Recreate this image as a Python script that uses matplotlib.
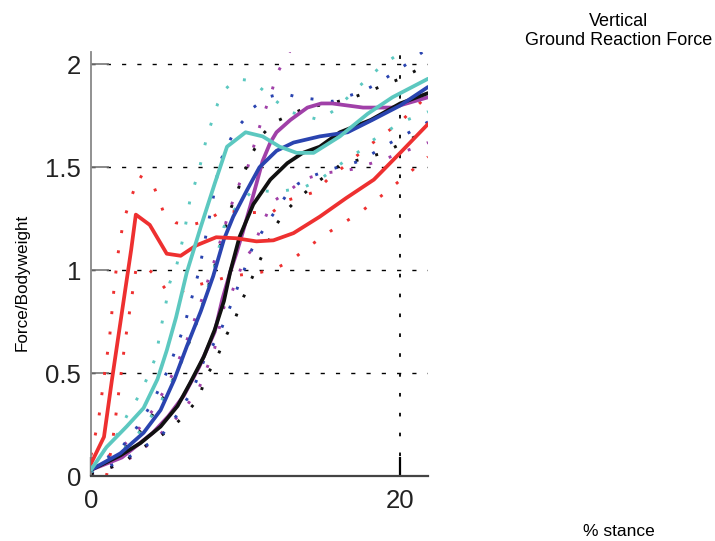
import matplotlib.pyplot as plt

plt.rcParams['font.family'] = ['Liberation Sans', 'DejaVu Sans']

# red
red_x = [0, 0.84, 1.36, 1.95, 2.6, 2.9, 3.8, 4.9, 5.8, 6.8, 8.1, 9.4, 10.7, 11.8, 13.1, 14.8, 16.5, 18.3, 20, 21.8]
red_y = [0.06, 0.19, 0.47, 0.77, 1.10, 1.27, 1.22, 1.08, 1.07, 1.12, 1.16, 1.155, 1.14, 1.145, 1.18, 1.26, 1.35, 1.44, 1.57, 1.71]
red_hi_x = [0, 0.5, 0.9, 1.2, 1.5, 1.75, 2.1, 2.5, 3.1, 4, 4.7, 5.5, 6.5, 7.5, 8.5, 10, 11.7, 12.7, 14.5, 15.3, 16.3, 17.9, 20, 21.8]
red_hi_y = [0.1, 0.28, 0.51, 0.67, 0.92, 1.08, 1.24, 1.33, 1.46, 1.42, 1.28, 1.23, 1.22, 1.24, 1.29, 1.28, 1.28, 1.34, 1.38, 1.44, 1.5, 1.6, 1.72, 1.85]
red_lo_x = [1, 1.4, 1.8, 2.2, 2.6, 2.9, 3.5, 4.2, 4.9, 6, 7, 8, 9, 10, 11, 12, 13, 14, 15.5, 17.4, 19.1, 21.8]
red_lo_y = [0.0, 0.17, 0.41, 0.65, 0.85, 1.0, 1.02, 0.97, 0.9, 0.9, 0.93, 0.95, 0.97, 0.98, 0.99, 1.01, 1.05, 1.11, 1.19, 1.28, 1.38, 1.55]

# cyan
cyan_x = [0, 1, 2.3, 3.4, 4.3, 4.9, 5.5, 6.2, 7.1, 8, 8.8, 10, 11.1, 12.2, 13.3, 14.4, 16.1, 17.9, 19.5, 21.8]
cyan_y = [0.03, 0.14, 0.24, 0.33, 0.47, 0.61, 0.77, 0.99, 1.21, 1.42, 1.60, 1.67, 1.65, 1.60, 1.57, 1.57, 1.65, 1.76, 1.84, 1.93]
cyan_hi_x = [0, 1, 1.9, 2.3, 3.1, 3.6, 4.2, 4.5, 4.8, 5.1, 5.5, 6, 6.4, 7, 7.5, 8.2, 8.7, 9.4, 10.4, 12, 12.8, 14.8, 15.8, 17.3, 18.9, 20.5, 21.8]
cyan_hi_y = [0.04, 0.14, 0.22, 0.29, 0.39, 0.47, 0.58, 0.71, 0.82, 0.94, 1.01, 1.17, 1.34, 1.49, 1.65, 1.81, 1.88, 1.93, 1.92, 1.82, 1.77, 1.73, 1.78, 1.89, 2.0, 2.08, 2.12]
cyan_lo_x = [0, 2, 3, 4, 5, 6, 7, 8, 8.6, 9.1, 10.5, 12, 13.7, 14.8, 16.4, 17.4, 18.2, 20.1, 21.8]
cyan_lo_y = [0.02, 0.12, 0.2, 0.3, 0.42, 0.58, 0.78, 1.02, 1.21, 1.28, 1.39, 1.38, 1.40, 1.44, 1.53, 1.58, 1.63, 1.72, 1.77]

# blue
blue_x = [0, 1.9, 3.4, 4.5, 5.4, 6.2, 7.1, 7.9, 8.6, 9.2, 10.1, 10.9, 12, 13.1, 14.8, 16.6, 18.2, 20, 21.8]
blue_y = [0.03, 0.11, 0.21, 0.32, 0.47, 0.63, 0.80, 0.97, 1.15, 1.26, 1.39, 1.50, 1.58, 1.62, 1.65, 1.67, 1.73, 1.80, 1.89]
blue_hi_x = [0, 2, 3, 4, 5, 6, 7, 7.9, 8.3, 9.3, 9.9, 10.5, 11.4, 12.4, 13.4, 14.5, 15.6, 17.6, 18.6, 20.4, 21.8]
blue_hi_y = [0.03, 0.14, 0.24, 0.36, 0.52, 0.72, 1.0, 1.35, 1.52, 1.68, 1.73, 1.79, 1.84, 1.86, 1.84, 1.83, 1.82, 1.87, 1.91, 2.0, 2.08]
blue_lo_x = [0, 2, 3, 4, 4.7, 5.5, 6.6, 7.3, 8.3, 9.2, 10.4, 11.4, 12.6, 13.4, 14.4, 15.5, 17.4, 19.4, 21.8]
blue_lo_y = [0.02, 0.07, 0.12, 0.17, 0.21, 0.29, 0.42, 0.56, 0.69, 0.86, 1.1, 1.23, 1.36, 1.42, 1.46, 1.49, 1.53, 1.62, 1.72]

# purple
purple_x = [0, 2, 3, 4, 5, 6, 7, 8, 8.5, 9, 9.4, 9.8, 10.3, 10.7, 11.1, 11.6, 12, 12.9, 14, 14.9, 15.6, 17.6, 19.5, 21.8]
purple_y = [0.03, 0.09, 0.15, 0.21, 0.29, 0.39, 0.53, 0.70, 0.86, 0.99, 1.08, 1.18, 1.31, 1.42, 1.53, 1.62, 1.67, 1.73, 1.79, 1.81, 1.81, 1.79, 1.79, 1.84]
purple_hi_x = [0, 2, 3, 4, 5, 6, 7, 8, 9, 9.6, 10.1, 10.4, 11, 11.7, 12, 12.5, 13, 15, 17, 19, 21.8]
purple_hi_y = [0.04, 0.14, 0.22, 0.32, 0.45, 0.62, 0.82, 1.05, 1.3, 1.42, 1.49, 1.57, 1.72, 1.87, 1.95, 2.02, 2.08, 2.1, 2.1, 2.08, 2.1]
purple_lo_x = [0, 2, 3, 4, 5, 6, 7, 8, 8.6, 9.1, 9.9, 10.5, 10.9, 11.7, 12.9, 13.7, 15, 16.9, 19, 21.8]
purple_lo_y = [0.01, 0.06, 0.11, 0.17, 0.24, 0.32, 0.43, 0.62, 0.82, 0.89, 1.05, 1.11, 1.19, 1.33, 1.39, 1.44, 1.47, 1.49, 1.54, 1.62]

# black
black_x = [0, 1.9, 3.2, 4.5, 5.6, 6.4, 7.3, 8, 8.6, 9, 9.6, 10.5, 11.6, 12.7, 13.7, 14.8, 16.1, 18.1, 20, 21.8]
black_y = [0.03, 0.10, 0.16, 0.24, 0.34, 0.45, 0.58, 0.71, 0.85, 0.99, 1.16, 1.32, 1.44, 1.52, 1.57, 1.60, 1.67, 1.73, 1.81, 1.86]
black_hi_x = [0, 2, 3, 4, 5, 6, 7, 8, 9, 9.8, 10.3, 11.1, 11.9, 13.9, 15.5, 17, 18, 20, 21.8]
black_hi_y = [0.03, 0.12, 0.2, 0.3, 0.42, 0.58, 0.78, 1.02, 1.29, 1.45, 1.55, 1.66, 1.72, 1.79, 1.81, 1.84, 1.87, 1.93, 2.0]
black_lo_x = [0, 2, 3, 4, 5, 6, 7, 7.4, 8, 8.4, 8.8, 9.3, 9.7, 10.1, 11, 11.9, 12.5, 13.3, 14.5, 16.1, 18.9, 21.8]
black_lo_y = [0.01, 0.06, 0.12, 0.17, 0.22, 0.29, 0.38, 0.48, 0.55, 0.62, 0.69, 0.76, 0.84, 0.91, 1.06, 1.21, 1.28, 1.34, 1.42, 1.51, 1.57, 1.68]

y_ticks = [0, 0.5, 1, 1.5, 2]
y_labels = ['0', '0.5', '1', '1.5', '2']
x_ticks = [0, 20]

series = [
    ('#a040a8', purple_x, purple_y, purple_hi_x, purple_hi_y, purple_lo_x, purple_lo_y),
    ('#111111', black_x, black_y, black_hi_x, black_hi_y, black_lo_x, black_lo_y),
    ('#2a44b0', blue_x, blue_y, blue_hi_x, blue_hi_y, blue_lo_x, blue_lo_y),
    ('#ee3030', red_x, red_y, red_hi_x, red_hi_y, red_lo_x, red_lo_y),
    ('#5cc8c0', cyan_x, cyan_y, cyan_hi_x, cyan_hi_y, cyan_lo_x, cyan_lo_y),
]

fig = plt.figure(figsize=(7.15, 5.41), dpi=100)
ax = fig.add_axes([91 / 715, 65 / 541, 337 / 715, 424 / 541])

# grid
for yv in y_ticks[1:]:
    ax.axhline(yv, color='black', lw=1.0, ls=(0, (3, 8)), zorder=1)
ax.axvline(20, color='black', lw=1.3, ls=(0, (2, 9)), zorder=1)

# dotted bands first, then means
for col, mx, my, hx, hy, lx, ly in series:
    ax.plot(hx, hy, color=col, lw=2.1, ls=(0, (1, 6)), zorder=2)
    ax.plot(lx, ly, color=col, lw=2.1, ls=(0, (1, 6)), zorder=2)
for col, mx, my, hx, hy, lx, ly in series:
    ax.plot(mx, my, color=col, lw=2.7, solid_capstyle='round', solid_joinstyle='round', zorder=3)

ax.set_xlim(0, 21.8)
ax.set_ylim(0, 2.06)
ax.set_yticks(y_ticks)
ax.set_yticklabels(y_labels)
ax.set_xticks(x_ticks)
ax.tick_params(axis='y', direction='in', length=13, width=1.2, color='#777777',
               labelsize=18.5, pad=7, labelcolor='#222222')
ax.tick_params(axis='x', direction='in', length=14, width=1.6, color='black',
               labelsize=18.5, pad=9, labelcolor='#222222')
for s in ['top', 'right']:
    ax.spines[s].set_visible(False)
ax.spines['left'].set_color('#888888')
ax.spines['left'].set_linewidth(1.3)
ax.spines['bottom'].set_color('#444444')
ax.spines['bottom'].set_linewidth(1.6)

fig.text(619 / 715, 1 - 31 / 541, 'Vertical\nGround Reaction Force', ha='center', va='center',
         fontsize=13, linespacing=1.1)
fig.text(619 / 715, 1 - 531 / 541, '% stance', ha='center', va='center', fontsize=12.5)
fig.text(22 / 715, 1 - 282 / 541, 'Force/Bodyweight', ha='center', va='center', rotation=90,
         fontsize=12.3)

fig.savefig('out.png', dpi=100)
